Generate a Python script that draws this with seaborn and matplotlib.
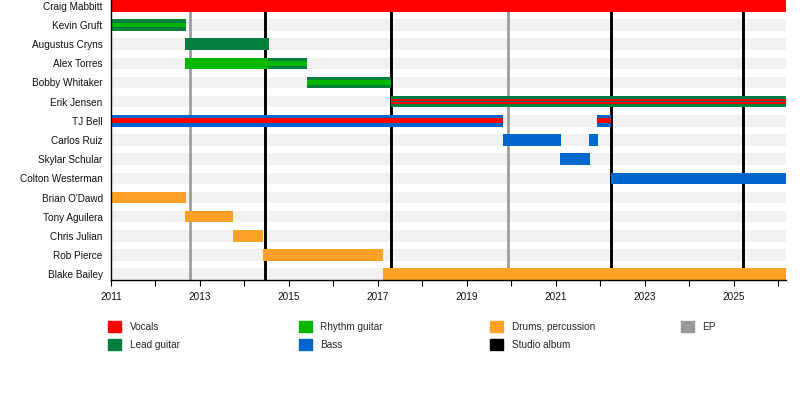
import matplotlib
matplotlib.use("Agg")
import matplotlib.pyplot as plt
import matplotlib.patches as mpatches
import numpy as np
import seaborn as sns

# ---------------------------------------------------------------------------
# Data
# ---------------------------------------------------------------------------
members = [
    "Craig Mabbitt", "Kevin Gruft", "Augustus Cryns", "Alex Torres",
    "Bobby Whitaker", "Erik Jensen", "TJ Bell", "Carlos Ruiz",
    "Skylar Schular", "Colton Westerman", "Brian O'Dawd", "Tony Aguilera",
    "Chris Julian", "Rob Pierce", "Blake Bailey",
]

END = 2026.17  # "present"

# one entry per membership period
period_member = [
    "Craig Mabbitt", "Kevin Gruft", "Augustus Cryns", "Alex Torres",
    "Alex Torres", "Bobby Whitaker", "Erik Jensen", "TJ Bell", "TJ Bell",
    "Carlos Ruiz", "Carlos Ruiz", "Skylar Schular", "Colton Westerman",
    "Brian O'Dawd", "Tony Aguilera", "Chris Julian", "Rob Pierce", "Blake Bailey",
]
period_role = [
    "Vocals", "Lead guitar", "Lead guitar", "Rhythm guitar",
    "Lead guitar", "Lead guitar", "Lead guitar", "Bass", "Bass",
    "Bass", "Bass", "Bass", "Bass",
    "Drums, percussion", "Drums, percussion", "Drums, percussion",
    "Drums, percussion", "Drums, percussion",
]
# secondary role drawn as a thinner stripe in the middle of the bar
period_inner = [
    None, "Rhythm guitar", None, None,
    "Rhythm guitar", "Rhythm guitar", "Vocals", "Vocals", "Vocals",
    None, None, None, None,
    None, None, None, None, None,
]
period_start = [
    2011.0, 2011.0, 2012.66, 2012.66, 2014.53, 2015.40, 2017.29, 2011.0, 2021.92,
    2019.81, 2021.74, 2021.09, 2022.24,
    2011.0, 2012.66, 2013.74, 2014.42, 2017.11,
]
period_end = [
    END, 2012.69, 2014.55, 2014.53, 2015.40, 2017.29, END, 2019.81, 2022.24,
    2021.11, 2021.94, 2021.76, END,
    2012.69, 2013.74, 2014.42, 2017.11, END,
]

studio_albums = [2014.46, 2017.29, 2022.24, 2025.20]
eps = [2012.78, 2019.92]

role_colors = {
    "Vocals": "#ff0000",
    "Lead guitar": "#007f3f",
    "Rhythm guitar": "#00b800",
    "Bass": "#0066cc",
    "Drums, percussion": "#ffa126",
}
album_color = "#000000"
ep_color = "#999999"

# ---------------------------------------------------------------------------
# Plot
# ---------------------------------------------------------------------------
sns.set_theme(style="white")
plt.rcParams["font.family"] = ["Liberation Sans", "DejaVu Sans"]

fig = plt.figure(figsize=(8, 4), dpi=100)
ax = fig.add_axes([111 / 800, 0.30, 675 / 800, 0.70])

row = {m: i for i, m in enumerate(members)}
bar_h = 0.6
x0, x1 = 2011.0, END

# light stripes behind every row
ax.barh(range(len(members)), x1 - x0, left=x0, height=bar_h,
        color="#f2f2f2", zorder=0, linewidth=0)

for x in eps:
    ax.axvline(x, color=ep_color, lw=1.9, zorder=1)
for x in studio_albums:
    ax.axvline(x, color=album_color, lw=2.1, zorder=1)

for m, role, inner, s, e in zip(period_member, period_role, period_inner,
                                period_start, period_end):
    y = row[m]
    ax.barh(y, e - s, left=s, height=bar_h, color=role_colors[role],
            linewidth=0, zorder=2)
    if inner is not None:
        ax.barh(y, e - s, left=s, height=bar_h * 0.42,
                color=role_colors[inner], linewidth=0, zorder=3)
        if m == "Erik Jensen":
            ax.barh(y, e - s, left=s, height=bar_h * 0.12,
                    color=role_colors[role], linewidth=0, zorder=4)

ax.set_xlim(x0, x1)
ax.set_ylim(len(members) - 1 + bar_h / 2, -bar_h / 2)
ax.set_yticks(range(len(members)))
ax.set_yticklabels(members)
ax.set_xticks(np.arange(2011, 2026, 2))
ax.set_xticks(np.arange(2011, 2027, 1), minor=True)
ax.tick_params(axis="x", which="both", direction="out", length=4, width=0.8,
               color="black", labelsize=7.2, pad=5, bottom=True)
ax.tick_params(axis="y", length=0, labelsize=7.2, pad=6)
for lab in ax.get_xticklabels() + ax.get_yticklabels():
    lab.set_color("#111111")

sns.despine(ax=ax, top=True, right=True)
for side in ("left", "bottom"):
    ax.spines[side].set_color("black")
    ax.spines[side].set_linewidth(1.0)
    ax.spines[side].set_zorder(5)
ax.grid(False)
ax.set_facecolor("white")

# legend, four columns
legend_cols = [
    [("Vocals", role_colors["Vocals"]), ("Lead guitar", role_colors["Lead guitar"])],
    [("Rhythm guitar", role_colors["Rhythm guitar"]), ("Bass", role_colors["Bass"])],
    [("Drums, percussion", role_colors["Drums, percussion"]), ("Studio album", album_color)],
    [("EP", ep_color)],
]
col_x = [108, 299, 490, 681]
for cx, entries in zip(col_x, legend_cols):
    handles = [mpatches.Patch(color=c, label=l) for l, c in entries]
    fig.legend(handles=handles, loc="upper left",
               bbox_to_anchor=(cx / 800, 1 - 321 / 400),
               frameon=False, fontsize=7.2, borderpad=0, borderaxespad=0,
               handlelength=1.3, handleheight=1.3, handletextpad=0.85,
               labelspacing=0.75)

fig.savefig("out.png", dpi=100)
